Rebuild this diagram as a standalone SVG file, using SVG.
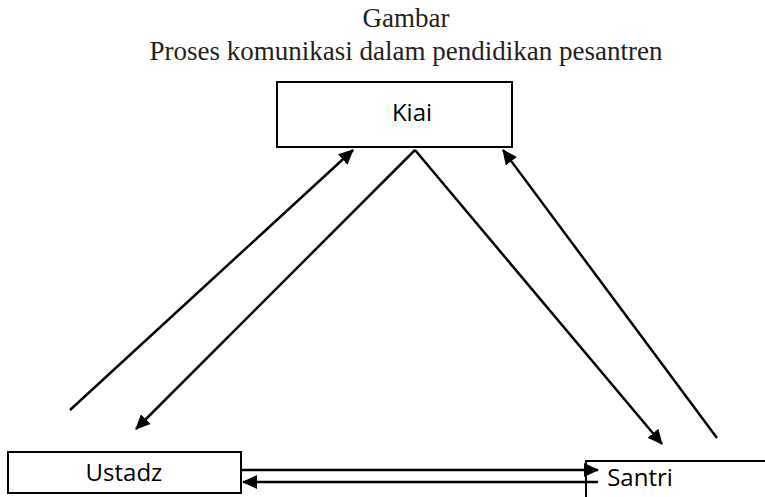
<svg xmlns="http://www.w3.org/2000/svg" width="765" height="497" viewBox="0 0 765 497">
<style>
.title{font-family:"Liberation Serif",serif;font-size:27px;fill:#231f20;text-anchor:middle}
.box{fill:#fff;stroke:#000;stroke-width:2}
.lbl{font-family:"Open Sans","Liberation Sans",sans-serif;font-size:24px;fill:#000;text-anchor:middle}
.ln{stroke:#000;stroke-width:2.5;fill:none}
</style>
<defs>
<marker id="ahb" markerWidth="15" markerHeight="14" refX="14" refY="7" orient="auto" markerUnits="userSpaceOnUse" viewBox="0 0 15 14">
<path d="M0,0 L15,7 L0,14 z" fill="#000"/>
</marker>
</defs>
<text class="title" x="406" y="27">Gambar</text>
<text class="title" x="406" y="60">Proses komunikasi dalam pendidikan pesantren</text>
<g id="kiai">
<rect class="box" x="277" y="82" width="235" height="65"/>
<text class="lbl" x="412" y="121">Kiai</text>
</g>
<g id="ustadz">
<rect class="box" x="8" y="452" width="233" height="41"/>
<text class="lbl" x="124" y="481">Ustadz</text>
</g>
<g id="santri">
<rect class="box" x="586" y="461" width="190" height="50"/>
<text class="lbl" x="640" y="486">Santri</text>
</g>
<g id="connectors">
<line class="ln" x1="70" y1="410" x2="353" y2="150" marker-end="url(#ahb)"/>
<line class="ln" x1="415" y1="150" x2="136" y2="429" marker-end="url(#ahb)"/>
<line class="ln" x1="415" y1="150" x2="662" y2="444" marker-end="url(#ahb)"/>
<line class="ln" x1="717" y1="438" x2="503" y2="150" marker-end="url(#ahb)"/>
<line class="ln" x1="241" y1="470" x2="598" y2="470" marker-end="url(#ahb)"/>
<line class="ln" x1="598" y1="482" x2="243" y2="482" marker-end="url(#ahb)"/>
</g>
</svg>
